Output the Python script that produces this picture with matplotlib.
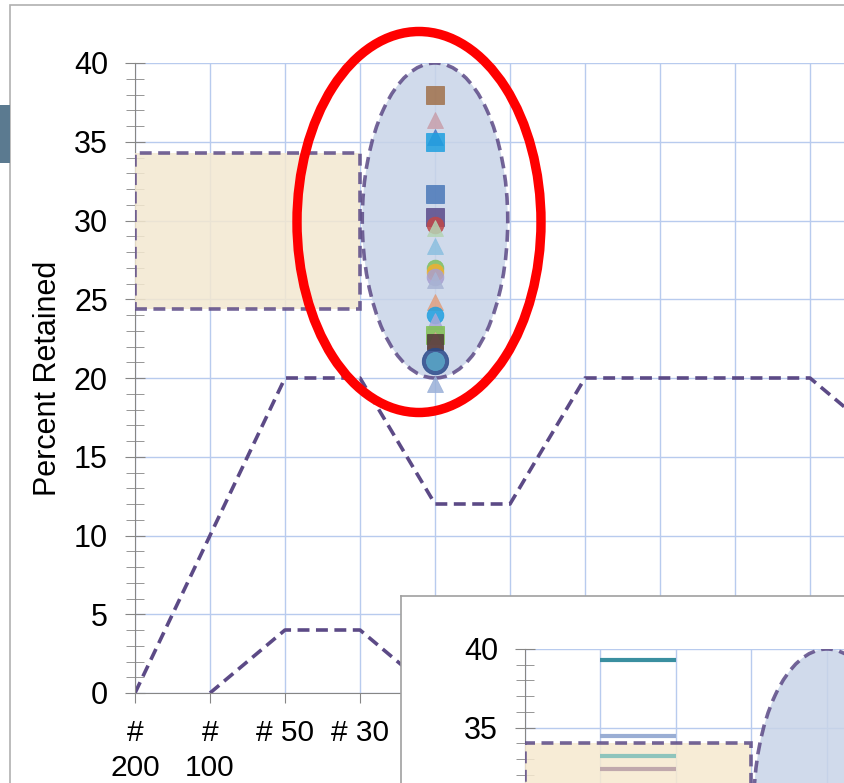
import numpy as np
import matplotlib
matplotlib.use('Agg')
import matplotlib.pyplot as plt
from matplotlib.patches import Ellipse, Rectangle
from matplotlib.ticker import MultipleLocator

plt.rcParams['font.family'] = ['Liberation Sans', 'DejaVu Sans']

# sieve sizes along the x axis (only the first four are visible)
sieves = ['#\n200', '#\n100', '# 50', '# 30', '# 16', '# 8', '# 4', '3/8"', '1/2"', '3/4"', '1"']
upper_limit = [0, 10, 20, 20, 12, 12, 20, 20, 20, 20, 16]
lower_limit = [np.nan, 0, 4, 4, 0, 0, 4, 4, 4, 4, 2]

# retained-percent points scattered on the # 16 sieve
point_y = [38.0, 36.4, 35.3, 35.0, 31.7, 30.2, 29.7, 29.5, 28.4, 27.0, 26.7, 26.4, 26.2,
           24.8, 24.0, 23.6, 22.7, 22.4, 22.3, 21.1, 21.1, 19.6]
point_marker = ['s', '^', '^', 's', 's', 's', 'o', '^', '^', 'o', 'o', 'o', '^',
                '^', 'o', '^', 's', '^', 's', 'o', 'o', '^']
point_color = ['#a0704a', '#c8a0ac', '#4a7cc8', '#1fa0e0', '#4a78b8', '#5a4a8a', '#c04848',
               '#b4d4b4', '#8cc0e0', '#80c060', '#f0b030', '#a8a0d0', '#a8b4d4',
               '#e0a080', '#20a0e0', '#a8a8d8', '#80c050', '#d8a090', '#503838',
               '#2a4a8a', '#5aa8c8', '#9ab0d8']
point_size = [13, 12, 12, 13, 13, 13, 12, 11, 12, 12, 12, 12, 11,
              12, 12, 12, 13, 11, 12, 19, 13, 12]

# colored bands in the zoomed inset, between # 100 and # 50
band_y = [39.3, 34.45, 33.2, 32.4]
band_color = ['#3a8fa0', '#9aaed4', '#8ec4bc', '#c0a8ac']

box_low, box_high = 24.4, 34.3
dash_col = '#5c4a86'
dash = (0, (3.3, 1.8))
dash_lw = 2.6
grid_col = '#b8cbee'
axis_col = '#868686'
x = np.arange(len(sieves))

fig = plt.figure(figsize=(8.45, 7.83), dpi=100)

# outer chart frame and left tab
fig.add_artist(Rectangle((10 / 845, -0.2), 1.2, 1.2 - 5 / 783, transform=fig.transFigure,
                         facecolor='none', edgecolor='#b0b0b0', lw=1.2, zorder=0))
fig.add_artist(Rectangle((0, (783 - 163) / 783), 10 / 845, 58 / 783, transform=fig.transFigure,
                         facecolor='#5b7a90', edgecolor='none', zorder=1))

ax = fig.add_axes([135 / 845, 90 / 783, 1 - 135 / 845, 630 / 783])

ax.add_patch(Rectangle((0, box_low), 3, box_high - box_low, facecolor='#f3e8d0', alpha=0.85,
                       edgecolor=dash_col, lw=dash_lw, ls=dash, zorder=3))
ax.add_patch(Ellipse((4, 30), 1.94, 20, facecolor='#c8d4e8', alpha=0.85,
                     edgecolor=dash_col, lw=dash_lw, ls=dash, zorder=3))
ax.plot(x, upper_limit, color=dash_col, lw=dash_lw, ls=dash, zorder=2)
ax.plot(x, lower_limit, color=dash_col, lw=dash_lw, ls=dash, zorder=2)
for yv, m, c, s in zip(point_y, point_marker, point_color, point_size):
    ax.plot([4], [yv], marker=m, color=c, markersize=s, markeredgewidth=0.6,
            alpha=0.85, ls='none', zorder=4)

ax.set_xticks(x)
ax.set_xticklabels(sieves, fontsize=21.5, va='top', linespacing=1.3)
for lab in ax.get_xticklabels()[4:]:
    lab.set_visible(False)  # covered by the inset anyway
ax.set_xlim(0, (845 - 135) / 75)
ax.set_ylim(0, 40)
ax.yaxis.set_major_locator(MultipleLocator(5))
ax.yaxis.set_minor_locator(MultipleLocator(1))
ax.tick_params(axis='y', which='major', direction='inout', length=15, color=axis_col, labelsize=22, pad=12)
ax.tick_params(axis='y', which='minor', direction='inout', length=13, color=axis_col)
ax.tick_params(axis='x', direction='out', length=7, color=axis_col, labelsize=21.5, pad=12)
ax.grid(True, color=grid_col, lw=1)
ax.set_axisbelow(True)
for s in ['top', 'right']:
    ax.spines[s].set_visible(False)
for s in ['left', 'bottom']:
    ax.spines[s].set_color(axis_col)
ax.set_ylabel('Percent Retained', fontsize=22, labelpad=8)

# zoomed inset in the lower right corner
frame = fig.add_axes([401 / 845, -0.2, 0.6, 0.2 + (783 - 596) / 783])
frame.set_zorder(5)
frame.set_xticks([])
frame.set_yticks([])
for s in frame.spines.values():
    s.set_color('#a0a0a0')
    s.set_linewidth(1.2)

ins = fig.add_axes([525 / 845, 0, 1 - 525 / 845, (783 - 649) / 783])
ins.set_zorder(6)
ins.patch.set_alpha(0)
ins.add_patch(Rectangle((0, 20), 3, 34.0 - 20, facecolor='#f6e9cf', alpha=0.85,
                        edgecolor=dash_col, lw=dash_lw, ls=dash, zorder=3))
ins.add_patch(Ellipse((4, 30), 1.94, 20, facecolor='#c8d4e8', alpha=0.85,
                      edgecolor=dash_col, lw=dash_lw, ls=dash, zorder=3))
for yv, c in zip(band_y, band_color):
    ins.plot([1, 2], [yv, yv], color=c, lw=3, solid_capstyle='butt', zorder=4)
ins.set_xticks(np.arange(0, 5))
ins.set_xticklabels([])
ins.set_xlim(0, (845 - 525) / 75.5)
ins.set_ylim(40 - (783 - 649) / 15.73, 40)
ins.yaxis.set_major_locator(MultipleLocator(5))
ins.yaxis.set_minor_locator(MultipleLocator(1))
ins.tick_params(axis='y', which='major', direction='inout', length=15, color=axis_col, labelsize=22, pad=12)
ins.tick_params(axis='y', which='minor', direction='inout', length=13, color=axis_col)
ins.tick_params(axis='x', length=0)
ins.grid(True, color=grid_col, lw=1)
ins.set_axisbelow(True)
for s in ['top', 'right', 'bottom']:
    ins.spines[s].set_visible(False)
ins.spines['left'].set_color(axis_col)

# red highlight ring
fig.add_artist(Ellipse((419 / 845, (783 - 222) / 783), 244 / 845, 381 / 783, transform=fig.transFigure,
                       facecolor='none', edgecolor='#ff0000', lw=6.8, zorder=10))

fig.savefig('out.png', dpi=100)
